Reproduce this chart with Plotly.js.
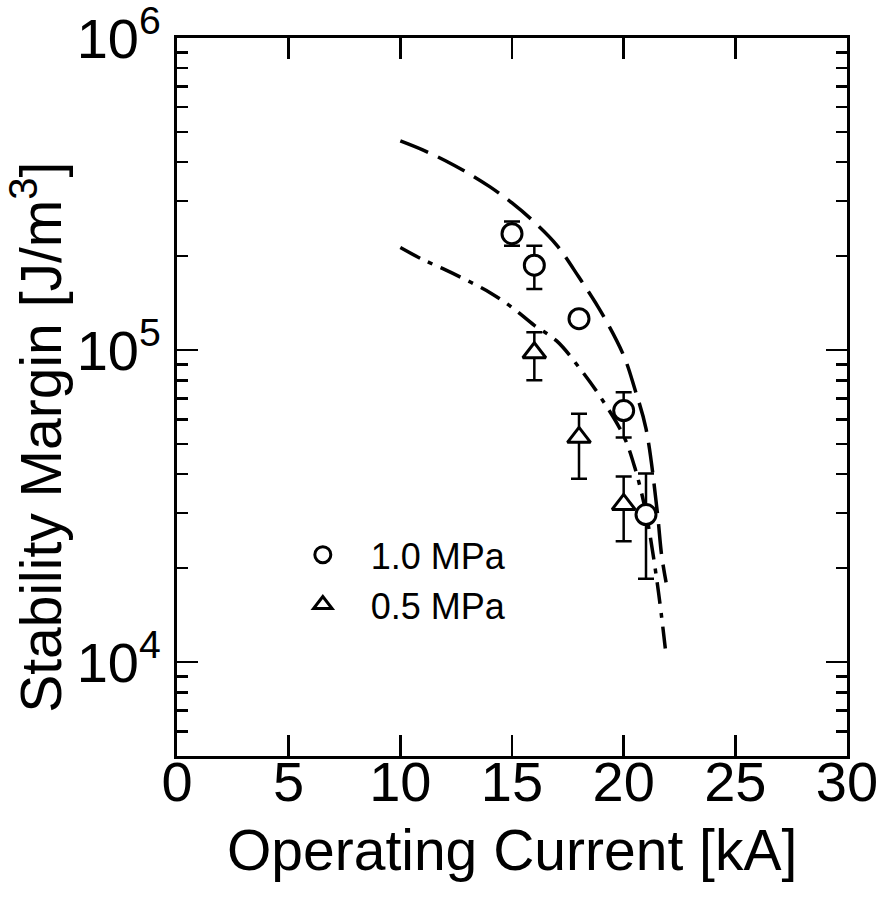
<!DOCTYPE html>
<html>
<head>
<meta charset="utf-8">
<script src="https://cdn.plot.ly/plotly-3.0.1.min.js"></script>
<style>html,body{margin:0;padding:0;background:#fff;}#chart{width:883px;height:901px;}</style>
</head>
<body>
<div id="chart"></div>
<script>
// 1.0 MPa measurements
const circX = [15, 16, 18, 20, 21];
const circY = [2.36e5, 1.87e5, 1.26e5, 6.4e4, 2.97e4];
const circErrPlus = [2.2e4, 2.9e4, 0, 0.92e4, 1.05e4];
const circErrMinus = [2.0e4, 3.0e4, 0, 1.16e4, 1.12e4];

// 0.5 MPa measurements
const triX = [16, 18, 20];
const triY = [9.8e4, 5.25e4, 3.2e4];
const triErrPlus = [1.6e4, 1.0e4, 0.73e4];
const triErrMinus = [1.8e4, 1.38e4, 0.76e4];

// calculated curve, 1.0 MPa (dashed)
const dashX = [10, 11, 12, 13, 14, 15, 16, 17, 18, 19, 20, 20.5, 21, 21.5, 21.7, 21.9];
const dashY = [4.68e5, 4.38e5, 4.05e5, 3.70e5, 3.34e5, 2.96e5, 2.57e5, 2.17e5, 1.71e5, 1.32e5, 9.6e4, 7.5e4, 5.6e4, 3.05e4, 2.2e4, 1.8e4];

// calculated curve, 0.5 MPa (dash-dot)
const dotX = [10, 11, 12, 13, 14, 15, 16, 17, 18, 19, 20, 20.5, 21, 21.5, 21.9];
const dotY = [2.13e5, 1.95e5, 1.81e5, 1.67e5, 1.53e5, 1.37e5, 1.20e5, 1.07e5, 8.8e4, 7.0e4, 5.3e4, 4.2e4, 3.0e4, 1.8e4, 1.05e4];

const legendNames = ['1.0 MPa', '0.5 MPa'];
const xTitle = 'Operating Current [kA]';
const yTitle = 'Stability Margin [J/m<sup>3</sup>]';
const xTickVals = [0, 5, 10, 15, 20, 25, 30];
const yTickVals = [1e4, 1e5, 1e6];
const yTickText = ['10<sup>4</sup>', '10<sup>5</sup>', '10<sup>6</sup>'];
const yMinorVals = [];
[1e3, 1e4, 1e5].forEach(d => { for (let k = 2; k <= 9; k++) yMinorVals.push(k * d); });

const FONT = 'Liberation Sans, Arial, Helvetica, sans-serif';

const traces = [
  {x: dashX, y: dashY, mode: 'lines', line: {color: '#000', width: 3.5, dash: '30px,11px', shape: 'spline'}, showlegend: false, hoverinfo: 'skip'},
  {x: dotX, y: dotY, mode: 'lines', line: {color: '#000', width: 3.5, dash: '22px,9px,5px,9px', shape: 'spline'}, showlegend: false, hoverinfo: 'skip'},
  {x: circX, y: circY, mode: 'markers', name: legendNames[0], legendgroup: 'a',
   marker: {symbol: 'circle', size: 20, color: '#fff', line: {color: '#000', width: 3}},
   error_y: {type: 'data', symmetric: false, array: circErrPlus, arrayminus: circErrMinus, color: '#000', thickness: 2.5, width: 8}},
  {x: triX, y: triY, mode: 'markers', name: legendNames[1], legendgroup: 'b',
   marker: {symbol: 'triangle-up', size: 20, color: '#fff', line: {color: '#000', width: 3}},
   error_y: {type: 'data', symmetric: false, array: triErrPlus, arrayminus: triErrMinus, color: '#000', thickness: 2.5, width: 8}}
];

const layout = {
  width: 883, height: 901,
  margin: {l: 177, r: 36, t: 38, b: 145},
  paper_bgcolor: '#fff', plot_bgcolor: '#fff',
  font: {family: FONT, color: '#000'},
  showlegend: true,
  legend: {x: 0.146, y: 0.322, xanchor: 'left', yanchor: 'top', bgcolor: 'rgba(0,0,0,0)',
           font: {size: 36, family: FONT}, tracegroupgap: 0, itemwidth: 86},
  xaxis: {
    range: [0, 30], tickmode: 'array', tickvals: xTickVals,
    ticks: 'inside', ticklen: 21, tickwidth: 2.5, tickcolor: '#000',
    showline: true, linewidth: 3, linecolor: '#000', mirror: 'ticks',
    showgrid: false, zeroline: false,
    tickfont: {size: 56, family: FONT}, ticklabelstandoff: -25
  },
  yaxis: {
    type: 'log', range: [Math.log10(5000), 6],
    tickmode: 'array', tickvals: yTickVals, ticktext: yTickText,
    ticks: 'inside', ticklen: 21, tickwidth: 2.5, tickcolor: '#000',
    minor: {tickmode: 'array', tickvals: yMinorVals, ticks: 'inside', ticklen: 11, tickwidth: 2.5, tickcolor: '#000'},
    showline: true, linewidth: 3, linecolor: '#000', mirror: 'ticks',
    showgrid: false, zeroline: false, ticklabeloverflow: 'allow',
    tickfont: {size: 56, family: FONT}, ticklabelstandoff: 2
  },
  annotations: [
    {text: xTitle, xref: 'paper', yref: 'paper', x: 0.5, y: -0.131, xanchor: 'center', yanchor: 'middle',
     showarrow: false, font: {size: 57, family: FONT, color: '#000'}},
    {text: yTitle, xref: 'paper', yref: 'paper', x: -0.208, y: 0.444, xanchor: 'center', yanchor: 'middle',
     textangle: -90, showarrow: false, font: {size: 57, family: FONT, color: '#000'}}
  ]
};

Plotly.newPlot('chart', traces, layout, {staticPlot: true, displayModeBar: false});
</script>
</body>
</html>
